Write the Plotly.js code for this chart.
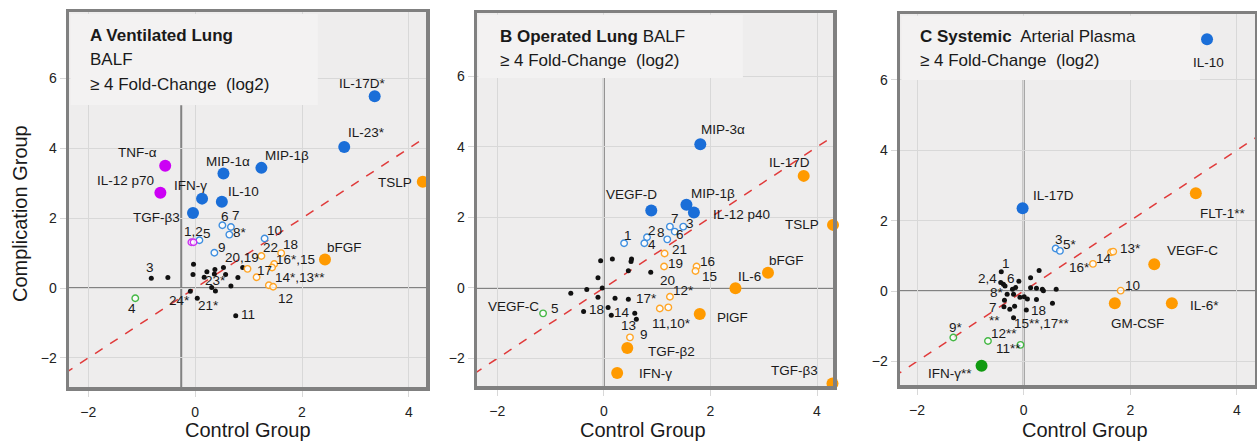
<!DOCTYPE html>
<html>
<head>
<meta charset="utf-8">
<script src="https://cdn.plot.ly/plotly-3.0.1.min.js"></script>
<style>html,body{margin:0;padding:0;background:#fff;}#chart{width:1257px;height:443px;}</style>
</head>
<body>
<div id="chart"></div>
<script>
// ---------------- DATA ----------------
// kinds: B/O/M/G = big blue/orange/magenta/green; b/o/m/g = small ring; k = black dot
const A_x = [3.36,2.79,-0.56,0.53,1.24,4.26,-0.65,0.13,0.50,-0.04,-2.39,2.43,
  0.51,0.67,0.64,0.08,1.30,0.36,-0.07,-0.03,
  1.24,1.61,1.48,1.44,0.98,1.15,1.38,1.46,-1.12,
  0.89,-0.82,-0.51,-0.03,-0.04,0.22,0.37,0.53,0.57,0.36,0.17,0.31,0.38,0.80,0.67,-0.09,0.04,0.76];
const A_y = [5.49,4.04,3.50,3.28,3.44,3.04,2.73,2.56,2.47,2.15,1.94,0.82,
  1.80,1.75,1.53,1.37,1.42,1.01,1.31,1.31,
  0.92,1.00,0.69,0.59,0.55,0.31,0.08,0.04,-0.29,
  0.59,0.28,0.30,0.68,0.39,0.47,0.53,0.59,0.39,0.40,0.31,0.02,-0.08,0.30,0.06,-0.09,-0.29,-0.79];
const A_kind = "BBMBBOMBBBMO"+"bbbbbbmm"+"oooooooog"+"kkkkkkkkkkkkkkkkkk";
const A_labText = ["IL-17D*","IL-23*","TNF-α","MIP-1α","MIP-1β","TSLP","IL-12 p70","IFN-γ","IL-10","TGF-β3","TIE-2","bFGF",
  "6","7","8*","5","10","9","1,2","22","18","16*,15","20,19","17","14*,13**","12","3","23*","24*","21*","11","4"];
const A_labPt = [0,1,2,3,4,5,6,7,8,9,10,11,12,13,14,15,16,17,18,20,21,22,29,25,27,26,30,40,44,45,46,28];
const A_labDx = [-12,22,-28,5,26,-28,-35,-12,22,-36,31,20,3,5,11,8,10,8,2,9,9,21,-1,8,27,17,-1,4,-11,11,12,-3];
const A_labDy = [-13,-14,-13,-12,-12,1,-12,-13,-10,5,-13,-12,-9,-11,-2,-7,-8,-5,-11,-8,-9,-4,-10,-7,-9,13,-11,-7,9,7,-1,10];

const B_x = [1.81,3.75,0.89,1.55,1.69,4.30,3.08,2.47,-2.39,1.80,0.44,0.25,4.29,
  -1.14,0.38,0.81,0.76,1.19,1.24,1.33,1.49,
  1.14,1.13,1.74,1.72,1.24,1.05,1.21,0.49,
  0.88,0.46,-0.38,0.14,0.61,-0.06,0.16,0.52,0.51,0.46,-0.11,-0.03,-0.32,-0.62,-0.11,0.21,0.08,0.58];
const B_y = [4.08,3.18,2.20,2.36,2.14,1.79,0.43,-0.01,0.02,-0.74,-1.70,-2.41,-2.71,
  -0.72,1.27,1.44,1.27,1.38,1.74,1.60,1.74,
  0.98,0.61,0.61,0.48,-0.25,-0.58,-0.55,-1.40,
  0.45,-0.32,-0.67,-0.77,-0.89,0.77,0.82,0.82,0.75,0.49,0.29,0.00,-0.04,-0.15,-0.26,-0.29,-0.55,-0.72];
const B_kind = "BOBBBOOOMOOOO"+"gbbbbbbb"+"oooooooo"+"kkkkkkkkkkkkkkkkkk";
const B_labText = ["MIP-3α","IL-17D","VEGF-D","MIP-1β","IL-12 p40","TSLP","bFGF","IL-6","TIE-2","PlGF","TGF-β2","IFN-γ","TGF-β3",
  "VEGF-C","5","1","2","4","8","7","6","3","21","19","16","15","12*","11,10*","9","20","17*","18","14","13"];
const B_labPt = [0,1,2,3,4,5,6,7,8,9,10,11,12,13,13,14,15,16,17,18,19,20,21,22,23,24,25,27,28,29,30,31,32,33];
const B_labDx = [23,-14,-20,27,48,-31,19,14,27,33,44,38,-38,-30,12,4,5,8,-6,5,5,7,15,11,11,14,14,3,14,17,18,13,11,-8];
const B_labDy = [-15,-13,-16,-11,2,0,-12,-12,-11,3,4,1,-13,-7,-5,-8,-7,1,-7,-8,3,-3,-4,-3,-5,5,-6,16,-3,8,-1,-2,-3,6];

const C_x = [3.44,-0.02,3.23,2.45,1.71,2.78,-0.79,
  0.60,0.68,1.30,1.64,1.68,1.82,-1.32,-0.67,-0.06,
  -0.42,-0.38,-0.43,-0.35,-0.09,0.29,0.13,-0.15,-0.21,0.13,0.24,0.35,0.37,0.61,
  -0.31,-0.19,-0.07,0.01,-0.36,0.07,0.24,0.54,-0.37,-0.26,-0.17,0.05,-0.19];
const C_y = [7.15,2.35,2.78,0.76,-0.35,-0.35,-2.12,
  1.21,1.14,0.77,1.10,1.12,0.01,-1.32,-1.42,-1.53,
  0.55,0.19,0.24,0.14,0.28,0.58,0.38,0.10,0.05,0.09,0.08,0.05,0.01,0.05,
  -0.09,-0.09,-0.18,-0.16,-0.26,-0.23,-0.24,-0.35,-0.45,-0.52,-0.43,-0.54,-0.76];
const C_kind = "BBOOOOG"+"bboooogggg".slice(0,9)+"kkkkkkkkkkkkkkkkkkkkkkkkkkk";
const C_labText = ["IL-10","IL-17D","FLT-1**","VEGF-C","GM-CSF","IL-6*","IFN-γ**","3","5*","16*","14","13*","10","9*","12**","11**",
  "1","2,4","6","8*","7","**","18","15**,17**"];
const C_labPt = [0,1,2,3,4,5,6,7,8,9,10,11,12,13,14,15,16,17,23,34,38,39,41,42];
const C_labDx = [1,31,27,38,23,33,-32,3,10,-13,-7,17,12,3,16,-12,5,-16,-5,-7,-11,-15,12,28];
const C_labDy = [23,-13,20,-14,20,2,8,-9,-6,4,6,-3,-5,-10,-8,4,-8,-6,-9,-8,1,11,0,6];

const xTicks = [-2,0,2,4];
const yTicks = [-2,0,2,4,6];

// ---------------- STYLE / LAYOUT ----------------
const W = 1257, H = 443;
const FONT = "Liberation Sans, Arial, sans-serif";
const styles = {
  B:{size:12, color:'#1a6ed8'}, O:{size:12, color:'#ff9a00'}, M:{size:12, color:'#cc00f5'}, G:{size:12, color:'#109a10'},
  b:{size:6.5, color:'rgba(255,255,255,0.75)', line:{color:'#3f8fe0', width:1.4}},
  o:{size:6.5, color:'rgba(255,255,255,0.75)', line:{color:'#ffa526', width:1.4}},
  m:{size:6.5, color:'rgba(255,255,255,0.75)', line:{color:'#cc33f0', width:1.4}},
  g:{size:6.5, color:'rgba(255,255,255,0.75)', line:{color:'#45b845', width:1.4}},
  k:{size:5, color:'#111111'}
};
const order = ['k','b','o','m','g','B','O','M','G'];

const panels = [
  {x:A_x, y:A_y, kind:A_kind, lt:A_labText, lp:A_labPt, ldx:A_labDx, ldy:A_labDy,
   px:[69,426], py:[12,387], xr:[-2.36,4.32], yr:[-2.83,7.9], vx:-0.26, vtop:5.23, box:[0.697,0.752]},
  {x:B_x, y:B_y, kind:B_kind, lt:B_labText, lp:B_labPt, ldx:B_labDx, ldy:B_labDy,
   px:[477,833], py:[13,386], xr:[-2.38,4.3], yr:[-2.78,7.8], vx:0, vtop:5.97, box:[0.747,0.826]},
  {x:C_x, y:C_y, kind:C_kind, lt:C_labText, lp:C_labPt, ldx:C_labDx, ldy:C_labDy,
   px:[900,1255], py:[14,385], xr:[-2.32,4.34], yr:[-2.67,7.87], vx:0, vtop:6.0, box:[0.845,0.822]}
];

const traces = [], shapes = [], annotations = [];
const layout = {
  width: W, height: H, margin:{l:0,r:0,t:0,b:0},
  paper_bgcolor:'#ffffff', plot_bgcolor:'#eeeded', showlegend:false,
  font:{family:FONT, color:'#1a1a1a'}
};

panels.forEach((p, i) => {
  const sfx = i === 0 ? '' : String(i+1);
  const xa = 'x'+sfx, ya = 'y'+sfx;
  const axCommon = {
    showgrid:true, gridcolor:'#d8d8d8', gridwidth:1, zeroline:false,
    showline:true, mirror:true, linecolor:'#808080', linewidth:3.5,
    ticks:'outside', ticklen:6, tickcolor:'#d8d8d8', tickwidth:1,
    tickfont:{family:FONT, size:14, color:'#222'}, fixedrange:true
  };
  layout['xaxis'+sfx] = Object.assign({}, axCommon, {
    domain:[p.px[0]/W, p.px[1]/W], range:p.xr, anchor:ya, tickvals:xTicks, ticklabelstandoff:4
  });
  layout['yaxis'+sfx] = Object.assign({}, axCommon, {
    domain:[1-p.py[1]/H, 1-p.py[0]/H], range:p.yr, anchor:xa, tickvals:yTicks
  });

  // markers grouped by kind
  order.forEach(k => {
    const xs = [], ys = [];
    for (let j = 0; j < p.x.length; j++) if (p.kind[j] === k) { xs.push(p.x[j]); ys.push(p.y[j]); }
    if (!xs.length) return;
    const st = styles[k];
    traces.push({type:'scatter', mode:'markers', x:xs, y:ys, xaxis:xa, yaxis:ya,
      cliponaxis:false, hoverinfo:'skip',
      marker:{symbol:'circle', size:st.size, color:st.color, line: st.line || {width:0}}});
  });

  // shapes
  const xd = xa+' domain', yd = ya+' domain';
  shapes.push({type:'rect', layer:'above', xref:xd, yref:yd, x0:0.004, x1:p.box[0], y0:p.box[1], y1:0.995,
    fillcolor:'#f3f2f2', line:{width:0}});
  shapes.push({type:'line', layer:'below', xref:xa, yref:ya, x0:-3, y0:-3, x1:5, y1:5,
    line:{color:'#e03a3a', width:1.5, dash:'dash'}});
  shapes.push({type:'line', layer:'below', xref:xd, yref:ya, x0:0, x1:1, y0:0, y1:0,
    line:{color:'#828282', width:2}});
  shapes.push({type:'line', layer:'below', xref:xa, yref:ya, x0:p.vx, x1:p.vx, y0:p.yr[0], y1:p.vtop,
    line:{color:'#828282', width:2}});

  // point labels
  p.lt.forEach((t, j) => {
    const k = p.lp[j];
    annotations.push({text:t, x:p.x[k], y:p.y[k], xref:xa, yref:ya, showarrow:false,
      xshift:p.ldx[j], yshift:-p.ldy[j], xanchor:'center', yanchor:'middle',
      font:{family:FONT, size:13.5, color:'#1a1a1a'}});
  });
});

// panel titles
function pa(text, xpx, ypx, size, extra) {
  return Object.assign({text:text, xref:'paper', yref:'paper', x:xpx/W, y:1-ypx/H,
    xanchor:'left', yanchor:'middle', showarrow:false,
    font:{family:FONT, size:size, color:'#1a1a1a'}}, extra||{});
}
const FC = "≥ 4 Fold-Change\u00a0\u00a0(log2)";
annotations.push(pa("<b>A Ventilated Lung</b>", 88, 35, 17));
annotations.push(pa("BALF", 88, 60, 17));
annotations.push(pa(FC, 88, 84, 17));
annotations.push(pa("<b>B Operated Lung</b> BALF", 498, 36, 17));
annotations.push(pa(FC, 498, 61, 17));
annotations.push(pa("<b>C Systemic</b>\u00a0 Arterial Plasma", 918, 36, 17));
annotations.push(pa(FC, 918, 61, 17));
// axis titles
annotations.push(pa("Complication Group", 20, 214, 20, {xanchor:'center', textangle:-90}));
[248, 643, 1085].forEach(cx => annotations.push(pa("Control Group", cx, 430, 20, {xanchor:'center'})));

layout.shapes = shapes;
layout.annotations = annotations;

Plotly.newPlot('chart', traces, layout, {displayModeBar:false, staticPlot:true});
</script>
</body>
</html>
